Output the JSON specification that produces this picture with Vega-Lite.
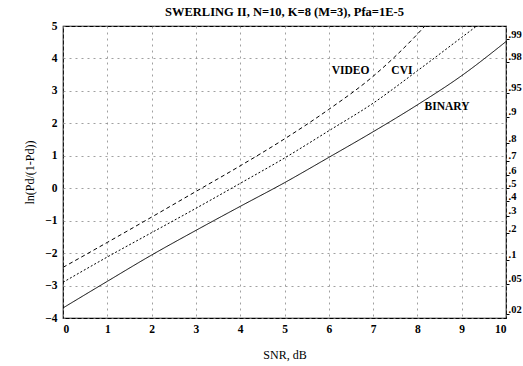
{
  "$schema": "https://vega.github.io/schema/vega-lite/v6.json",
  "width": 443,
  "height": 292,
  "autosize": "none",
  "padding": {"left": 63, "top": 26, "right": 17, "bottom": 48},
  "background": "white",
  "title": {"text": "SWERLING II, N=10, K=8 (M=3), Pfa=1E-5", "font": "Liberation Serif", "fontSize": 12.5, "fontWeight": "bold", "color": "black", "offset": 2},
  "config": {
    "view": {"stroke": "black", "strokeWidth": 1.2},
    "font": "Liberation Serif",
    "axis": {"labelFont": "Liberation Serif", "labelFontSize": 11.5, "labelFontWeight": "bold", "labelColor": "black", "titleFont": "Liberation Serif", "titleFontSize": 12, "titleFontWeight": "normal", "titleColor": "black", "domain": false}
  },
  "datasets": {
    "curves": [
      {"detector": "BINARY", "snr": 0, "logit": -3.69},
      {"detector": "BINARY", "snr": 1, "logit": -2.87},
      {"detector": "BINARY", "snr": 2, "logit": -2.06},
      {"detector": "BINARY", "snr": 3, "logit": -1.3},
      {"detector": "BINARY", "snr": 4, "logit": -0.56},
      {"detector": "BINARY", "snr": 5, "logit": 0.17},
      {"detector": "BINARY", "snr": 6, "logit": 0.95},
      {"detector": "BINARY", "snr": 7, "logit": 1.74},
      {"detector": "BINARY", "snr": 8, "logit": 2.57},
      {"detector": "BINARY", "snr": 9, "logit": 3.47},
      {"detector": "BINARY", "snr": 10, "logit": 4.52},
      {"detector": "CVI", "snr": 0, "logit": -2.9},
      {"detector": "CVI", "snr": 1, "logit": -2.12},
      {"detector": "CVI", "snr": 2, "logit": -1.37},
      {"detector": "CVI", "snr": 3, "logit": -0.62},
      {"detector": "CVI", "snr": 4, "logit": 0.15},
      {"detector": "CVI", "snr": 5, "logit": 0.93},
      {"detector": "CVI", "snr": 6, "logit": 1.77},
      {"detector": "CVI", "snr": 7, "logit": 2.62},
      {"detector": "CVI", "snr": 8, "logit": 3.62},
      {"detector": "CVI", "snr": 9, "logit": 4.65},
      {"detector": "CVI", "snr": 9.34, "logit": 5.0},
      {"detector": "VIDEO", "snr": 0, "logit": -2.44},
      {"detector": "VIDEO", "snr": 1, "logit": -1.67},
      {"detector": "VIDEO", "snr": 2, "logit": -0.89},
      {"detector": "VIDEO", "snr": 3, "logit": -0.1},
      {"detector": "VIDEO", "snr": 4, "logit": 0.69},
      {"detector": "VIDEO", "snr": 5, "logit": 1.52},
      {"detector": "VIDEO", "snr": 6, "logit": 2.43},
      {"detector": "VIDEO", "snr": 7, "logit": 3.45},
      {"detector": "VIDEO", "snr": 8, "logit": 4.75},
      {"detector": "VIDEO", "snr": 8.17, "logit": 5.0}
    ],
    "labels": [
      {"label": "VIDEO", "snr": 6.49, "logit": 3.62},
      {"label": "CVI", "snr": 7.65, "logit": 3.62},
      {"label": "BINARY", "snr": 8.67, "logit": 2.49}
    ],
    "pticks": [
      {"p": 0.99, "logit": 4.59512},
      {"p": 0.98, "logit": 3.89182},
      {"p": 0.95, "logit": 2.94444},
      {"p": 0.9, "logit": 2.19722},
      {"p": 0.8, "logit": 1.38629},
      {"p": 0.7, "logit": 0.84730},
      {"p": 0.6, "logit": 0.40547},
      {"p": 0.5, "logit": 0},
      {"p": 0.4, "logit": -0.40547},
      {"p": 0.3, "logit": -0.84730},
      {"p": 0.2, "logit": -1.38629},
      {"p": 0.1, "logit": -2.19722},
      {"p": 0.05, "logit": -2.94444},
      {"p": 0.02, "logit": -3.89182}
    ]
  },
  "layer": [
    {
      "data": {"name": "curves"},
      "mark": {"type": "line", "color": "black", "strokeWidth": 1, "interpolate": "monotone", "clip": true},
      "encoding": {
        "x": {"field": "snr", "type": "quantitative", "scale": {"domain": [0, 10], "nice": false},
          "axis": {"title": "SNR, dB", "values": [0,1,2,3,4,5,6,7,8,9,10], "ticks": false, "labelPadding": 5, "titlePadding": 15, "grid": true, "gridColor": "#888", "gridDash": [2, 4], "gridWidth": 0.8}},
        "y": {"field": "logit", "type": "quantitative", "scale": {"domain": [-4, 5], "nice": false},
          "axis": {"title": "ln(Pd/(1-Pd))", "values": [-4,-3,-2,-1,0,1,2,3,4,5], "format": "d", "ticks": false, "labelPadding": 6, "titlePadding": 8, "grid": true, "gridColor": "#888", "gridDash": [2, 4], "gridWidth": 0.8}},
        "strokeDash": {"field": "detector", "type": "nominal", "scale": {"domain": ["BINARY", "CVI", "VIDEO"], "range": [[1, 0], [2, 2], [4, 3]]}, "legend": null}
      }
    },
    {
      "data": {"name": "labels"},
      "mark": {"type": "text", "font": "Liberation Serif", "fontSize": 11.5, "fontWeight": "bold", "color": "black"},
      "encoding": {
        "x": {"field": "snr", "type": "quantitative"},
        "y": {"field": "logit", "type": "quantitative", "scale": {"domain": [-4, 5], "nice": false}, "axis": null},
        "text": {"field": "label"}
      }
    },
    {
      "data": {"name": "pticks"},
      "mark": {"type": "point", "opacity": 0},
      "encoding": {
        "y": {"field": "logit", "type": "quantitative", "scale": {"domain": [-4, 5], "nice": false},
          "axis": {"orient": "right", "title": null, "grid": false, "values": [4.59512, 3.89182, 2.94444, 2.19722, 1.38629, 0.8473, 0.40547, 0, -0.40547, -0.8473, -1.38629, -2.19722, -2.94444, -3.89182],
            "labelExpr": "replace(format(1/(1+exp(-datum.value)), '.2~f'), '0.', '.')", "tickSize": 3, "tickColor": "black", "labelPadding": -1, "labelBaseline": "bottom", "labelFontSize": 10.5}}
      }
    }
  ],
  "resolve": {"scale": {"y": "independent"}}
}
